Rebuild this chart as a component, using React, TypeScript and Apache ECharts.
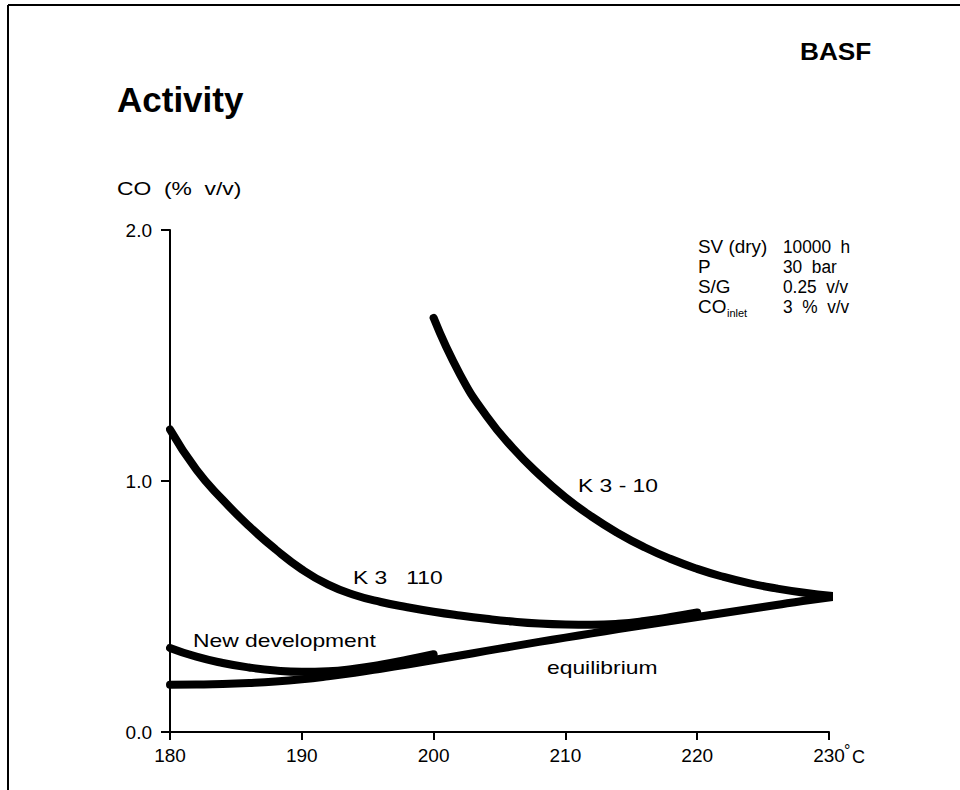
import React, { useEffect, useRef } from "react";
import * as echarts from "echarts";

const xTicks = [180, 190, 200, 210, 220, 230];
const yTicks = ["0.0", "1.0", "2.0"];

const k310X = [200, 202, 204, 206, 208, 210, 212, 214, 216, 218, 220, 222, 224, 226, 228, 230.6];
const k310Y = [1.65, 1.425, 1.26, 1.132, 1.026, 0.935, 0.858, 0.792, 0.736, 0.689, 0.65, 0.618, 0.592, 0.572, 0.556, 0.54];

const k3110X = [180, 182, 184, 186, 188, 190, 192, 194, 196, 198, 200, 202, 204, 206, 208, 210, 212, 214, 216, 218, 220];
const k3110Y = [1.205, 1.045, 0.925, 0.82, 0.728, 0.648, 0.587, 0.546, 0.518, 0.497, 0.479, 0.464, 0.451, 0.44, 0.432, 0.428, 0.427, 0.431, 0.442, 0.458, 0.476];

const eqX = [180, 182, 184, 186, 188, 190, 192, 194, 196, 198, 200, 202, 204, 206, 208, 210, 212, 214, 216, 218, 220, 222, 224, 226, 228, 230.6];
const eqY = [0.188, 0.189, 0.191, 0.195, 0.201, 0.21, 0.222, 0.236, 0.252, 0.269, 0.287, 0.305, 0.323, 0.341, 0.359, 0.376, 0.393, 0.41, 0.426, 0.442, 0.458, 0.474, 0.49, 0.506, 0.522, 0.54];

const newX = [180, 182, 184, 186, 188, 190, 192, 194, 196, 198, 200];
const newY = [0.335, 0.3, 0.275, 0.257, 0.245, 0.24, 0.242, 0.252, 0.268, 0.288, 0.31];

const paramNames = ["SV (dry)", "P", "S/G", "CO"];
const paramValues = ["10000  h", "30  bar", "0.25  v/v", "3  %  v/v"];

const FONT = "'Liberation Sans', Arial, Helvetica, sans-serif";

function pairs(xs: number[], ys: number[]) {
  return xs.map((x, i) => [x, ys[i]]);
}

export default function App() {
  const ref = useRef<HTMLDivElement>(null);
  useEffect(() => {
    if (!ref.current) return;
    const chart = echarts.init(ref.current, undefined, { renderer: "svg" });
    const lineSeries = (name: string, data: number[][]) => ({
      name,
      type: "line",
      data,
      smooth: 0.5,
      showSymbol: false,
      symbol: "none",
      lineStyle: { color: "#000", width: 8, cap: "round", join: "round" },
      z: 3,
    });
    const txt = (
      x: number,
      y: number,
      text: string,
      size = 18,
      weight = "normal",
      sx = 1.27
    ) => ({
      type: "text",
      x,
      y,
      scaleX: sx,
      style: {
        text,
        font: `${weight} ${size}px ${FONT}`,
        fill: "#000",
        textAlign: "left",
        textVerticalAlign: "middle",
      },
    });
    const graphics: any[] = [
      { type: "line", shape: { x1: 8, y1: 5, x2: 960, y2: 5 }, style: { stroke: "#000", lineWidth: 2 } },
      { type: "line", shape: { x1: 8, y1: 5, x2: 8, y2: 790 }, style: { stroke: "#000", lineWidth: 2 } },
      txt(117, 99, "Activity", 35, "bold", 1.0),
      txt(800, 52, "BASF", 23, "bold", 1.14),
      txt(117, 188, "CO  (%  v/v)", 18),
      txt(844, 750, "°", 16, "normal", 1),
      txt(852, 757, "C", 18, "normal", 1),
      txt(578, 485, "K 3 - 10", 18),
      txt(353, 577, "K 3   110", 18),
      txt(193, 640, "New development", 18),
      txt(547, 667, "equilibrium", 18),
    ];
    const rowY = [247, 267, 287, 307];
    paramNames.forEach((n, i) => {
      graphics.push(txt(698, rowY[i], n, 18, "normal", 1.05));
      graphics.push(txt(783, rowY[i], paramValues[i], 18, "normal", 0.96));
    });
    graphics.push(txt(727, rowY[3] + 6, "inlet", 10, "normal", 1.1));

    chart.setOption({
      animation: false,
      backgroundColor: "#fff",
      grid: { left: 170, right: 131, top: 230, bottom: 58, containLabel: false },
      xAxis: {
        type: "value",
        min: 180,
        max: 230,
        interval: 10,
        axisLine: { show: true, lineStyle: { color: "#000", width: 2 } },
        axisTick: { show: true, length: 8, lineStyle: { color: "#000", width: 2 } },
        splitLine: { show: false },
        axisLabel: {
          color: "#000",
          fontSize: 19,
          fontFamily: FONT,
          margin: 14,
          formatter: (v: number) => (xTicks.includes(v) ? String(v) : ""),
        },
      },
      yAxis: {
        type: "value",
        min: 0,
        max: 2,
        interval: 1,
        axisLine: { show: true, lineStyle: { color: "#000", width: 2 } },
        axisTick: { show: true, length: 9, lineStyle: { color: "#000", width: 2 } },
        splitLine: { show: false },
        axisLabel: {
          color: "#000",
          fontSize: 19,
          fontFamily: FONT,
          margin: 18,
          formatter: (v: number) => yTicks[Math.round(v)] ?? "",
        },
      },
      series: [
        lineSeries("K 3-10", pairs(k310X, k310Y)),
        lineSeries("K 3 110", pairs(k3110X, k3110Y)),
        lineSeries("equilibrium", pairs(eqX, eqY)),
        lineSeries("New development", pairs(newX, newY)),
      ],
      graphic: graphics,
    });
    return () => chart.dispose();
  }, []);
  return <div ref={ref} style={{ position: "absolute", left: 0, top: 0, width: 960, height: 790 }} />;
}
